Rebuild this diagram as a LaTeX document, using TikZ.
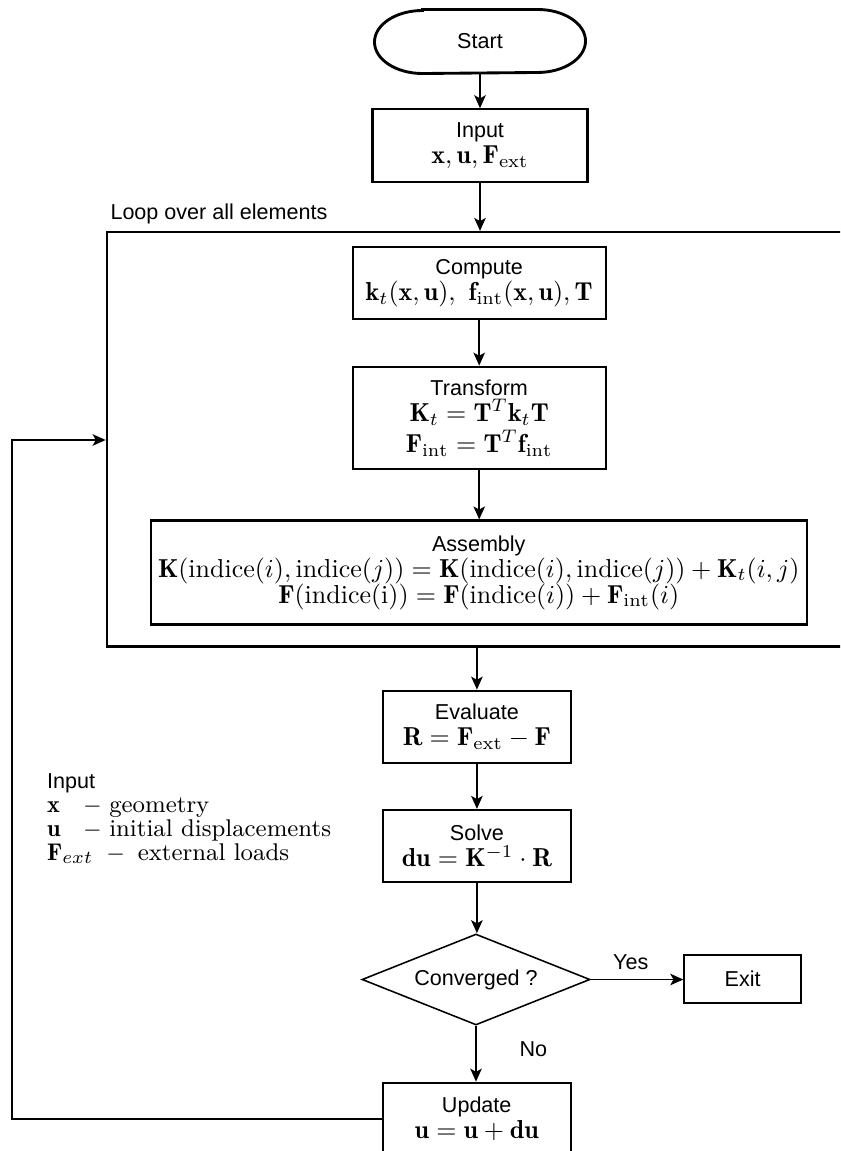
\documentclass[tikz,border=0pt]{standalone}
\usepackage{amsmath}
\usepackage{fontspec}
\newfontfamily\arial{Liberation Sans}
\usetikzlibrary{shapes.geometric,arrows.meta,calc}
\newcommand{\pxl}{0.385pt}
\newcommand{\lab}[1]{{\arial\fontsize{8.3}{10}\selectfont #1}}
\begin{document}
\begin{tikzpicture}[x=0.385pt,y=-0.385pt,
  box/.style={draw,line width=0.8pt,inner sep=0pt,align=center,font=\fontsize{10}{10}\selectfont},
  arr/.style={line width=0.75pt,-{Stealth[length=5pt,width=4.4pt,inset=1.2pt]}},
  lbl/.style={inner sep=0pt,font=\arial\fontsize{8.3}{10}\selectfont}]
\useasboundingbox (0,0) rectangle (840,1151);
\clip (0,0) rectangle (840,1151);

% start terminal
\node[inner sep=0pt,minimum width=210*\pxl,minimum height=63*\pxl] (start) at (480,41.5) {\lab{Start}};
\draw[line width=1.1pt] ([xshift=48*\pxl]start.north west) -- ([xshift=-48*\pxl]start.north east)
  arc[start angle=90,end angle=-90,x radius=48*\pxl,y radius=31.5*\pxl]
  -- ([xshift=48*\pxl]start.south west)
  arc[start angle=270,end angle=90,x radius=48*\pxl,y radius=31.5*\pxl] -- cycle;

\node[box,minimum width=215*\pxl,minimum height=73*\pxl] (input) at (480,145.8)
  {\lab{Input}\\$\mathbf{x}, \mathbf{u}, \mathbf{F}_{\mathrm{ext}}$};

\node[lbl,anchor=west] (looplbl) at (110,214) {Loop over all elements};
\node[draw,line width=0.8pt,inner sep=0pt,minimum width=753.3*\pxl,minimum height=414.5*\pxl] (frame) at (483.35,439.25) {};

\node[box,minimum width=253*\pxl,minimum height=72.6*\pxl] (compute) at (479.2,283)
  {\lab{Compute}\\$\mathbf{k}_t(\mathbf{x},\mathbf{u}),\ \mathbf{f}_{\mathrm{int}}(\mathbf{x},\mathbf{u}),\mathbf{T}$};
\node[box,minimum width=253*\pxl,minimum height=102.6*\pxl] (transform) at (479.2,418)
  {\lab{Transform}\\$\mathbf{K}_t = \mathbf{T}^T\mathbf{k}_t\mathbf{T}$\\[2pt]$\mathbf{F}_{\mathrm{int}} = \mathbf{T}^T\mathbf{f}_{\mathrm{int}}$};
\node[box,minimum width=655.5*\pxl,minimum height=104*\pxl] (assembly) at (478.8,572.5)
  {\lab{Assembly}\\$\mathbf{K}(\mathrm{indice}(i),\mathrm{indice}(j)) = \mathbf{K}(\mathrm{indice}(i),\mathrm{indice}(j)) + \mathbf{K}_t(i,j)$\\
   $\mathbf{F}(\mathrm{indice(i)}) = \mathbf{F}(\mathrm{indice}(i)) + \mathbf{F}_{\mathrm{int}}(i)$};

\node[box,minimum width=188.3*\pxl,minimum height=72*\pxl] (evaluate) at (476.9,726.7)
  {\lab{Evaluate}\\$\mathbf{R} = \mathbf{F}_{\mathrm{ext}} - \mathbf{F}$};
\node[box,minimum width=188.3*\pxl,minimum height=71.7*\pxl] (solve) at (476.9,845.8)
  {\lab{Solve}\\$\mathbf{du} = \mathbf{K}^{-1}\cdot\mathbf{R}$};

\node[draw,diamond,aspect=2.5,line width=0.6pt,inner sep=0pt,minimum width=228*\pxl,minimum height=91*\pxl] (dec) at (476,979.5) {\lab{Converged ?}};
\node[box,minimum width=116.7*\pxl,minimum height=47.7*\pxl] (exit) at (742.7,978.8) {\lab{Exit}};
\node[box,minimum width=188*\pxl,minimum height=72*\pxl] (update) at (476.7,1118.7)
  {\lab{Update}\\$\mathbf{u} = \mathbf{u} + \mathbf{du}$};

\node[lbl] (yes) at (630.7,962.3) {Yes};
\node[lbl] (no) at (533.3,1049.3) {No};

\node[anchor=north west,inner sep=0pt,align=left,font=\fontsize{9.3}{9.3}\selectfont] (legend) at (46.7,773)
  {\lab{Input}\\
   \makebox[13.8pt][l]{$\mathbf{x}$}$-$\hspace{2.9pt}geometry\\
   \makebox[13.8pt][l]{$\mathbf{u}$}$-$\hspace{2.9pt}initial displacements\\
   \makebox[22.8pt][l]{$\mathbf{F}_{ext}$}$-$\hspace{4.9pt}external loads};

% connectors
\draw[arr] (start.south) -- (start.south |- input.north);
\draw[arr] (input.south) -- (input.south |- frame.north);
\draw[arr] (compute.south) -- (compute.south |- transform.north);
\draw[arr] (transform.south) -- (transform.south |- assembly.north);
\draw[arr] (evaluate.north |- frame.south) -- (evaluate.north);
\draw[arr] (evaluate.south) -- (evaluate.south |- solve.north);
\draw[arr] (solve.south) -- (solve.south |- dec.north);
\draw[arr] (dec.east) -- (dec.east -| exit.west);
\draw[arr] (dec.south) -- (dec.south |- update.north);
\coordinate (fb) at (11.7,440);
\draw[arr] (update.west) -| (fb) -- (fb -| frame.west);
\end{tikzpicture}
\end{document}
